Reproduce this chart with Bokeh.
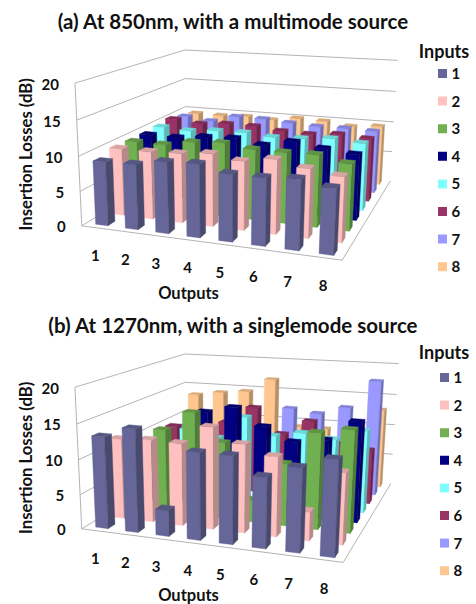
import numpy as np
from bokeh.core.properties import value
from bokeh.embed import file_html
from bokeh.layouts import column
from bokeh.models import Range1d
from bokeh.plotting import figure
from bokeh.resources import INLINE

# Chart content
titles = ["(a) At 850nm, with a multimode source", "(b) At 1270nm, with a singlemode source"]
outputs = ["1", "2", "3", "4", "5", "6", "7", "8"]
inputs = ["1", "2", "3", "4", "5", "6", "7", "8"]
z_ticks = [0, 5, 10, 15, 20]
input_colors = ["#666699", "#FFC0C0", "#70B050", "#000080", "#80FFFF", "#993366", "#9999FF", "#FFC78F"]

# Insertion losses in dB: one list per input, one value per output
a_input1 = [9.1, 9.2, 10.0, 10.2, 9.3, 9.3, 9.6, 8.9]
a_input2 = [9.8, 9.8, 10.0, 10.4, 9.8, 10.5, 9.7, 9.1]
a_input3 = [9.7, 9.7, 10.5, 10.8, 10.3, 10.3, 10.4, 9.6]
a_input4 = [9.7, 9.7, 10.2, 10.4, 9.8, 10.7, 10.1, 9.7]
a_input5 = [9.9, 9.7, 10.1, 10.2, 9.9, 10.1, 10.5, 10.2]
a_input6 = [10.2, 9.8, 10.2, 10.2, 9.8, 9.7, 10.1, 9.8]
a_input7 = [9.7, 9.3, 10.4, 10.4, 10.1, 9.9, 10.0, 9.9]
a_input8 = [9.3, 9.3, 9.5, 9.3, 9.9, 9.8, 9.3, 9.7]

b_input1 = [13.1, 14.6, 3.7, 12.2, 12.2, 9.8, 11.5, 13.0]
b_input2 = [11.7, 12.0, 11.9, 14.6, 12.6, 11.3, 4.1, 10.0]
b_input3 = [9.5, 12.4, 15.3, 11.3, 3.2, 9.1, 13.9, 14.7]
b_input4 = [8.5, 9.0, 14.5, 15.5, 13.0, 11.1, 11.8, 14.8]
b_input5 = [8.5, 10.5, 9.5, 13.1, 10.6, 11.4, 10.8, 12.5]
b_input6 = [9.6, 8.0, 10.9, 13.7, 9.8, 12.2, 9.0, 8.4]
b_input7 = [8.5, 8.5, 9.0, 9.0, 13.0, 12.5, 13.8, 18.3]
b_input8 = [13.2, 13.9, 14.4, 16.7, 9.0, 9.0, 9.0, 12.9]

a_values = [a_input1, a_input2, a_input3, a_input4, a_input5, a_input6, a_input7, a_input8]
b_values = [b_input1, b_input2, b_input3, b_input4, b_input5, b_input6, b_input7, b_input8]

# Camera calibration: box corners (output, input, dB) and their picture positions.
# The walls and the bar grid of the source differ slightly, so each has its own fit.
FONT = value("Lato")
box_points = [(0, 0, 0), (8, 0, 0), (8, 8, 0), (0, 8, 0), (0, 0, 20), (0, 8, 20), (8, 8, 20)]
a_walls = [(81.7, 225), (341.7, 260), (390, 180), (185, 161), (74, 82.7), (185, 49.3), (397, 60)]
a_bars = [(81.7, 225), (341.7, 260), (390, 180), (188.5, 159), (74, 82.7), (188.5, 47.3), (397, 60)]
b_walls = [(81.7, 528), (342.7, 562.3), (390.7, 482.3), (185, 464), (74, 386.7), (185, 353.3), (398, 363.3)]
b_bars = [(81.7, 528), (342.7, 562.3), (390.7, 482.3), (188.5, 462), (74, 386.7), (188.5, 351.3), (398, 363.3)]


def solve_camera(world, image):
    rows = []
    for (x, y, z), (u, v) in zip(world, image):
        rows.append([x, y, z, 1, 0, 0, 0, 0, -u * x, -u * y, -u * z, -u])
        rows.append([0, 0, 0, 0, x, y, z, 1, -v * x, -v * y, -v * z, -v])
    return np.linalg.svd(np.array(rows, float))[2][-1].reshape(3, 4)


def shade(color, factor):
    rgb = [int(color[i:i + 2], 16) for i in (1, 3, 5)]
    return "#%02x%02x%02x" % tuple(int(c * factor) for c in rgb)


def project(cam, x, y, z):
    q = cam @ np.array([x, y, z, 1.0])
    return q[0] / q[2], q[1] / q[2]


def panel(title, values, walls, bars, y0, y1, title_y, inputs_y, legend_x):
    cam = solve_camera(box_points, walls)
    bar_cam = solve_camera(box_points, bars)

    def proj(x, y, z):
        return project(cam, x, y, z)

    p = figure(width=476, height=y1 - y0, x_range=Range1d(0, 476), y_range=Range1d(y1, y0),
               output_backend="svg", toolbar_location=None, min_border=0)
    p.axis.visible = False
    p.grid.visible = False
    p.outline_line_color = None

    # walls and floor
    grid = "#b4b4b4"
    for z in z_ticks[1:]:
        a, b, c = proj(0, 0, z), proj(0, 8, z), proj(8, 8, z)
        p.line([a[0], b[0], c[0]], [a[1], b[1], c[1]], line_color=grid, line_width=1)
    corners = [proj(0, 8, 0), proj(0, 0, 0), proj(8, 0, 0), proj(8, 8, 0)]
    p.line([c[0] for c in corners], [c[1] for c in corners], line_color=grid, line_width=1)
    a, b = proj(0, 0, 0), proj(0, 0, 20)
    p.line([a[0], b[0]], [a[1], b[1]], line_color=grid, line_width=1)

    # bars, painted from the back row to the front, left to right
    w = 0.42
    for row in range(len(inputs) - 1, -1, -1):
        color = input_colors[row]
        for col, val in enumerate(values[row]):
            x0, x1 = col + 0.5 - w / 2, col + 0.5 + w / 2
            y_0, y_1 = row + 0.5 - w / 2, row + 0.5 + w / 2
            faces = [
                ([(x0, y_0, 0), (x1, y_0, 0), (x1, y_0, val), (x0, y_0, val)], color),
                ([(x1, y_0, 0), (x1, y_1, 0), (x1, y_1, val), (x1, y_0, val)], shade(color, 0.72)),
                ([(x0, y_0, val), (x1, y_0, val), (x1, y_1, val), (x0, y_1, val)], shade(color, 0.85)),
            ]
            xs = [[project(bar_cam, *pt)[0] for pt in f[0]] for f in faces]
            ys = [[project(bar_cam, *pt)[1] for pt in f[0]] for f in faces]
            fills = [f[1] for f in faces]
            p.patches(xs, ys, fill_color=fills, line_color=fills, line_width=0.4)

    # z tick labels
    tx = [proj(0, 0, z)[0] - 16 for z in z_ticks]
    ty = [proj(0, 0, z)[1] + 1 for z in z_ticks]
    p.text(tx, ty, text=[str(z) for z in z_ticks], text_font=FONT, text_font_style="bold",
           text_font_size="15px", text_align="right", text_baseline="middle", text_color="#111111")

    # output labels
    ox = [proj(k + 0.5, 0, 0)[0] - 1 for k in range(8)]
    oy = [proj(k + 0.5, 0, 0)[1] + 28 for k in range(8)]
    p.text(ox, oy, text=outputs, text_font=FONT, text_font_style="bold", text_font_size="15px",
           text_align="center", text_baseline="middle", text_color="#111111")

    # titles
    p.text([233], [title_y], text=[title], text_font=FONT, text_font_style="bold", text_font_size="20.5px",
           text_align="center", text_baseline="middle", text_color="#111111")
    p.text([188], [walls[1][1] + 32], text=["Outputs"], text_font=FONT, text_font_style="bold",
           text_font_size="16.5px", text_align="center", text_baseline="middle", text_color="#111111")
    p.text([25], [(walls[0][1] + walls[4][1]) / 2], text=["Insertion Losses (dB)"], angle=np.pi / 2,
           text_font=FONT, text_font_style="bold", text_font_size="16.7px", text_align="center",
           text_baseline="middle", text_color="#111111")

    # legend
    p.text([443.5], [inputs_y], text=["Inputs"], text_font=FONT, text_font_style="bold", text_font_size="18px",
           text_align="center", text_baseline="middle", text_color="#111111")
    ly = [title_y + 53 + 27.6 * i for i in range(8)]
    p.rect([legend_x] * 8, ly, width=9, height=9, fill_color=input_colors, line_color=None)
    p.text([legend_x + 9] * 8, ly, text=inputs, text_font=FONT, text_font_style="bold", text_font_size="15px",
           text_align="left", text_baseline="middle", text_color="#111111")
    return p


top = panel(titles[0], a_values, a_walls, a_bars, 0, 304, 20, 50, 442)
bottom = panel(titles[1], b_values, b_walls, b_bars, 304, 604, 324, 351, 444)
layout = column(top, bottom, spacing=0)
open("out.html", "w").write(file_html(layout, INLINE))
